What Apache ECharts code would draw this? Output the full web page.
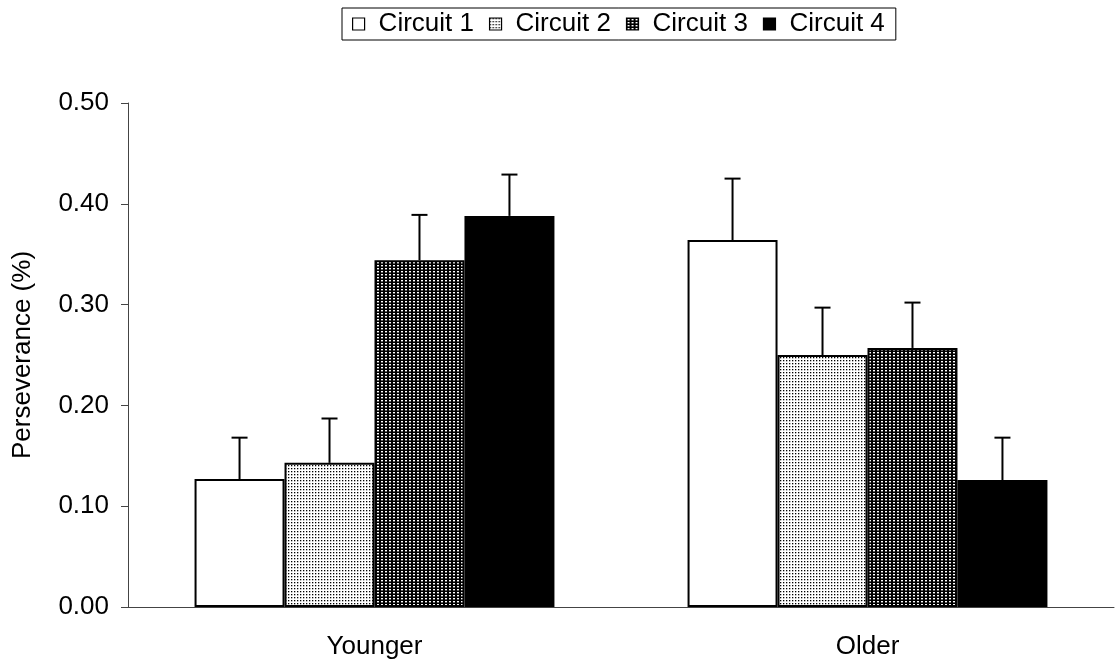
<!DOCTYPE html>
<html><head><meta charset="utf-8">
<script src="https://cdn.jsdelivr.net/npm/echarts@6/dist/echarts.min.js"></script>
<style>html,body{margin:0;padding:0;background:#fff}#c{width:1116px;height:668px}</style>
</head><body><div id="c"></div>
<script>
const categories = ['Younger', 'Older'];
const seriesNames = ['Circuit 1', 'Circuit 2', 'Circuit 3', 'Circuit 4'];
const circuit1 = [0.127, 0.364];
const circuit2 = [0.143, 0.250];
const circuit3 = [0.344, 0.257];
const circuit4 = [0.388, 0.126];
const err1 = [0.041, 0.061];
const err2 = [0.044, 0.047];
const err3 = [0.045, 0.045];
const err4 = [0.041, 0.042];
const yTicks = ['0.00', '0.10', '0.20', '0.30', '0.40', '0.50'];

const means = [circuit1, circuit2, circuit3, circuit4];
const errs = [err1, err2, err3, err4];
const GAP = 0.27;

function pattern(kind) {
  const c = document.createElement('canvas');
  if (kind === 'light') {
    c.width = 3; c.height = 3;
    const x = c.getContext('2d');
    x.fillStyle = '#fff'; x.fillRect(0, 0, 3, 3);
    x.fillStyle = '#000'; x.fillRect(0, 0, 1.3, 1.3);
  } else {
    c.width = 4; c.height = 3;
    const x = c.getContext('2d');
    x.fillStyle = '#000'; x.fillRect(0, 0, 4, 3);
    x.fillStyle = '#fff'; x.fillRect(1, 1, 2, 1.4);
  }
  return { image: c, repeat: 'repeat' };
}
const fills = ['#ffffff', pattern('light'), pattern('dark'), '#000000'];

const FONT = '"Liberation Sans", Arial, sans-serif';
const series = seriesNames.map((n, i) => ({
  name: n, type: 'bar', data: means[i],
  barGap: '0%', barCategoryGap: (GAP * 100) + '%',
  itemStyle: { color: fills[i], borderColor: '#000', borderWidth: 2 },
  emphasis: { disabled: true }
}));

const errData = [];
means.forEach((m, s) => m.forEach((v, c) => errData.push([c, v, errs[s][c], s])));
series.push({
  type: 'custom', data: errData, z: 5, silent: true,
  renderItem: function (params, api) {
    const c = api.value(0), v = api.value(1), e = api.value(2), s = api.value(3);
    const band = api.size([1, 0])[0];
    const bw = band * (1 - GAP) / 4;
    const base = api.coord([c, v]);
    const top = api.coord([c, v + e]);
    const x = base[0] + (s - 1.5) * bw;
    const st = { stroke: '#000', lineWidth: 2 };
    return { type: 'group', children: [
      { type: 'line', shape: { x1: x, y1: base[1], x2: x, y2: top[1] }, style: st },
      { type: 'line', shape: { x1: x - 8, y1: top[1], x2: x + 8, y2: top[1] }, style: st }
    ]};
  }
});

const chart = echarts.init(document.getElementById('c'), null, { renderer: 'canvas' });
chart.setOption({
  animation: false,
  backgroundColor: '#fff',
  textStyle: { fontFamily: FONT },
  legend: {
    data: seriesNames, left: 342, top: 8,
    borderColor: '#000', borderWidth: 1, borderRadius: 0,
    padding: [3, 11, 3, 10],
    itemWidth: 12, itemHeight: 12, itemGap: 15,
    icon: 'rect',
    itemStyle: { borderColor: '#000', borderWidth: 1.2 },
    textStyle: { fontSize: 26, color: '#000', fontFamily: FONT, padding: [0, 0, 0, 9] }
  },
  grid: { left: 128, right: 2, top: 103, bottom: 61 },
  xAxis: {
    type: 'category', data: categories,
    axisLine: { lineStyle: { color: '#444', width: 1 } },
    axisTick: { length: 7, lineStyle: { color: '#444' } },
    axisLabel: { fontSize: 26, color: '#000', margin: 27, fontFamily: FONT }
  },
  yAxis: {
    type: 'value', min: 0, max: 0.5, interval: 0.1,
    name: 'Perseverance (%)', nameLocation: 'middle', nameGap: 92, nameRotate: 90,
    nameTextStyle: { fontSize: 26, color: '#000', fontFamily: FONT },
    axisLine: { show: true, lineStyle: { color: '#444', width: 1 } },
    axisTick: { show: true, length: 7, lineStyle: { color: '#444' } },
    splitLine: { show: false },
    axisLabel: { fontSize: 26, color: '#000', margin: 19, fontFamily: FONT,
      formatter: (v) => yTicks[Math.round(v * 10)] }
  },
  series: series
});
</script></body></html>
